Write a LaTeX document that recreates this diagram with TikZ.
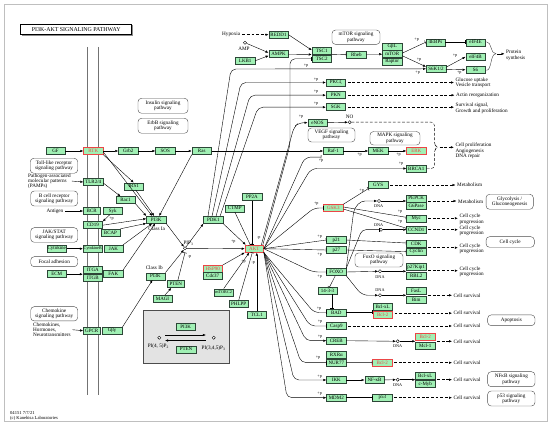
\documentclass[tikz,border=0pt]{standalone}
\usepackage{fontspec}
\setmainfont{Liberation Serif}
\usetikzlibrary{arrows.meta}
\definecolor{kgreen}{RGB}{160,240,180}
\definecolor{kred}{RGB}{235,70,70}
\definecolor{kedge}{RGB}{45,70,55}
\newcommand{\gfs}{\fontsize{5}{5.2}\selectfont}
\newcommand{\lfs}{\fontsize{5.2}{5.2}\selectfont}
\newcommand{\pfs}{\fontsize{4.2}{4.4}\selectfont}
\newcommand{\sfs}{\fontsize{4.2}{4.5}\selectfont}
\begin{document}
\begin{tikzpicture}[x=1pt,y=-1pt,line width=0.4pt,
 gene/.style={draw=kedge,fill=kgreen,minimum width=19.5pt,minimum height=7pt,inner sep=0pt,font=\gfs},
 rgene/.style={gene,draw=kred,text=kred},
 pw/.style={draw=black!70,rounded corners=3.5pt,align=center,font=\lfs,inner sep=0pt},
 txt/.style={font=\lfs,inner sep=0pt,align=left},
 lbl/.style={font=\pfs,inner sep=0pt},
 arr/.style={-{Latex[length=3pt,width=2.4pt]}},
 inh/.style={-{Bar[width=4pt]}},
 darr/.style={-{Latex[length=3pt,width=2.4pt]},dash pattern=on 2.8pt off 1.8pt,shorten <=2pt},
 tgap/.style={shorten >=1.5pt},
 dnadot/.style={circle,draw,fill=white,inner sep=0pt,minimum size=3.2pt},
 memb/.style={draw=black!55,line width=1.4pt}]
\useasboundingbox (0,0) rectangle (550,427);
\draw[black!25] (4,4) rectangle (547,421);
% title
\fill[black!45] (22.2,25.5) rectangle (133.2,35.8);
\node[draw,fill=white,line width=0.6pt,minimum width=111pt,minimum height=10.3pt,inner sep=0pt,font=\fontsize{5.9}{6}\selectfont] (title) at (76.2,29.2) {PI3K-AKT SIGNALING PATHWAY};
% membrane
\draw[memb] (87.3,47) -- (87.3,395);
\draw[memb] (98.7,47) -- (98.7,395);
% gray box
\node[draw=black!70,line width=1pt,fill=black!11,minimum width=86.4pt,minimum height=53.3pt,inner sep=0pt] (gbox) at (186.5,336.7) {};

% ---------- genes left
\node[gene] (GF) at (55.5,151) {GF};
\node[rgene] (RTK) at (93.3,151) {RTK};
\node[gene] (Grb2) at (128.2,151) {Grb2};
\node[gene] (SOS) at (165.3,151) {SOS};
\node[gene] (Ras) at (201.7,151) {Ras};
\node[gene] (Raf1) at (333.2,151) {Raf-1};
\node[gene] (MEK) at (378.2,151) {MEK};
\node[rgene] (ERK) at (416.3,151) {ERK};
\node[gene] (BRCA1) at (416.3,168.5) {BRCA1};
\node[gene] (TLR) at (93.3,182) {TLR2/4};
\node[gene] (IRS1) at (133.7,186.3) {IRS1};
\node[gene] (Rac1) at (125.5,200) {Rac1};
\node[gene,minimum width=16.7pt] (BCR) at (91.7,211) {BCR};
\node[gene,minimum width=19pt] (Syk) at (112.8,211) {Syk};
\node[gene] (CD19) at (92.8,225.2) {CD19};
\node[gene] (BCAP) at (110.5,232.5) {BCAP};
\node[gene] (PI3Ka) at (156.2,219.7) {PI3K};
\node[gene] (Cyt) at (56.7,248.7) {Cytokine};
\node[gene,font=\sfs] (CytR) at (92.8,248.7) {CytokineR};
\node[gene,minimum width=18.4pt] (JAK) at (113.5,248.7) {JAK};
\node[gene] (ECM) at (56.7,274.2) {ECM};
\node[gene] (ITGA) at (92.8,270.2) {ITGA};
\node[gene] (ITGB) at (92.8,277.8) {ITGB};
\node[gene] (FAK) at (113.3,273.5) {FAK};
\node[gene] (PI3Kb) at (155.5,276.3) {PI3K};
\node[gene,minimum width=17.5pt] (PTEN) at (175.8,284.2) {PTEN};
\node[gene] (MAGI) at (162.5,298.7) {MAGI};
\node[gene] (PDK1) at (213.3,220) {PDK1};
\node[gene] (CTMP) at (234.8,208.3) {CTMP};
\node[gene] (PP2A) at (252,197) {PP2A};
\node[rgene,minimum width=18.7pt,minimum height=7.3pt] (AKT) at (254.3,248.7) {AKT};
\node[rgene] (HSP90) at (212.7,268.8) {HSP90};
\node[gene] (Cdc37) at (212.7,276.2) {Cdc37};
\node[gene,font=\sfs] (mTORC2) at (223.7,292.3) {mTORC2};
\node[gene] (PHLPP) at (238.7,304) {PHLPP};
\node[gene] (TCL1) at (256.8,315) {TCL1};
\node[gene,minimum width=16.7pt] (GPCR) at (91.7,330.7) {GPCR};
\node[gene,minimum width=20.6pt] (Gbg) at (112,330.7) {Gβγ};
% ---------- genes top
\node[gene] (REDD1) at (278.5,34.7) {REDD1};
\node[gene] (AMPK) at (278.5,54.2) {AMPK};
\node[gene] (LKB1) at (245.2,60.8) {LKB1};
\node[gene] (TSC1) at (321.7,51.2) {TSC1};
\node[gene] (TSC2) at (321.7,58.8) {TSC2};
\node[gene] (Rheb) at (356.3,54.3) {Rheb};
\node[gene] (GbL) at (392.2,46.7) {GβL};
\node[gene] (mTOR) at (392.2,54.2) {mTOR};
\node[gene] (Raptor) at (392.2,61.7) {Raptor};
\node[gene] (EBP) at (435.5,42.3) {4EBPs};
\node[gene] (eIF4E) at (475.5,42.3) {eIF4E};
\node[gene] (eIF4B) at (475.5,56.8) {eIF4B};
\node[gene] (S6K) at (436,68.8) {S6K1/2};
\node[gene] (S6) at (475.5,69.8) {S6};
\node[gene] (PKC) at (335.8,82.5) {PKCζ};
\node[gene] (PKN) at (335.8,95.2) {PKN};
\node[gene] (SGK) at (335.8,107.2) {SGK};
\node[gene] (eNOS) at (317.5,122.7) {eNOS};
% ---------- genes right
\node[gene] (GYS) at (378.2,185) {GYS};
\node[rgene] (GSK3) at (333.3,208) {GSK3};
\node[gene] (PEPCK) at (416.2,198.3) {PEPCK};
\node[gene] (G6P) at (416.2,205.8) {G6Pase};
\node[gene] (Myc) at (416.2,218.3) {Myc};
\node[gene] (CCND1) at (416.2,229.7) {CCND1};
\node[gene] (p21) at (336.3,240) {p21};
\node[gene] (p27) at (336.3,250) {p27};
\node[gene] (CDK) at (416.2,244) {CDK};
\node[gene] (Cyclin) at (416.2,251.6) {Cyclin};
\node[gene] (FOXO) at (336.3,272) {FOXO};
\node[gene] (Kip) at (416.2,267) {p27Kip1};
\node[gene] (RBL2) at (416.2,275.5) {RBL2};
\node[gene] (Y1433) at (327.5,290.8) {14-3-3};
\node[gene] (BAD) at (336.3,312.5) {BAD};
\node[gene] (Casp9) at (336.3,326) {Casp9};
\node[gene] (CREB) at (336.3,340.7) {CREB};
\node[gene] (RXRa) at (336.3,355) {RXRα};
\node[gene] (NUR77) at (336.3,362.6) {NUR77};
\node[gene] (IKK) at (336.3,380) {IKK};
\node[gene] (MDM2) at (336.3,397.7) {MDM2};
\node[gene] (FasL) at (416.2,290.9) {FasL};
\node[gene] (Bim) at (416.2,299.6) {Bim};
\node[gene] (BclxLa) at (382.7,306.7) {Bcl-xL};
\node[rgene] (Bcl2a) at (382.7,315.2) {Bcl-2};
\node[rgene] (Bcl2b) at (425.3,336.7) {Bcl-2};
\node[gene] (Mcl1) at (425.3,346) {Mcl-1};
\node[rgene] (Bcl2c) at (382.3,362.7) {Bcl-2};
\node[gene] (NFkB) at (374.5,380) {NF-κB};
\node[gene] (BclxLb) at (425.3,375.3) {Bcl-xL};
\node[gene] (cMyb) at (425.3,384) {c-Myb};
\node[gene] (p53) at (382.3,397.7) {p53};
% gray box content
\node[gene] (bPI3K) at (185.7,326.7) {PI3K};
\node[gene] (bPTEN) at (186,349.3) {PTEN};
\node[dnadot] (pipL) at (159.3,337.7) {};
\node[dnadot] (pipR) at (213.7,337.7) {};
\node[txt] (pipLt) at (158.3,346.7) {PI(4, 5)P\textsubscript{2}};
\node[txt] (pipRt) at (213.5,348.5) {PI(3,4,5)P\textsubscript{3}};
\draw[arr] ([xshift=4pt,yshift=2.7pt]pipL.east) -- ([xshift=-6pt,yshift=2.7pt]pipR.west);
\draw[arr] ([xshift=-6pt,yshift=-2.8pt]pipR.west) -- ([xshift=4pt,yshift=-2.8pt]pipL.east);

% ---------- pathway boxes
\node[pw,minimum width=50pt,minimum height=15pt] (insulin) at (163,105.8) {Insulin signaling\\pathway};
\node[pw,minimum width=50pt,minimum height=15pt] (erbb) at (163,125.8) {ErbB signaling\\pathway};
\node[pw,minimum width=47.5pt,minimum height=15pt] (toll) at (54,165.8) {Toll-like receptor\\signaling pathway};
\node[pw,minimum width=47pt,minimum height=15pt] (bcell) at (54.2,198.5) {B cell receptor\\signaling pathway};
\node[pw,minimum width=47pt,minimum height=14.6pt] (jak) at (54.2,235) {JAK/STAT\\signaling pathway};
\node[pw,minimum width=47pt,minimum height=10pt] (focal) at (54.2,261.7) {Focal adhesion};
\node[pw,minimum width=47pt,minimum height=14.3pt] (chemo) at (54.2,313.8) {Chemokine\\signaling pathway};
\node[pw,minimum width=48pt,minimum height=14.3pt] (mtorpw) at (356,37.2) {mTOR signaling\\pathway};
\node[pw,minimum width=47pt,minimum height=14pt] (vegf) at (331.5,135) {VEGF signaling\\pathway};
\node[pw,minimum width=50pt,minimum height=13.5pt] (mapk) at (395,138.3) {MAPK signaling\\pathway};
\node[pw,minimum width=48pt,minimum height=14pt] (foxopw) at (379,260) {FoxO signaling\\pathway};
\node[pw,minimum width=47.3pt,minimum height=15pt] (glyco) at (509.7,201.8) {Glycolysis /\\Gluconeogenesis};
\node[pw,minimum width=48.3pt,minimum height=10.6pt] (ccpw) at (510.2,242) {Cell cycle};
\node[pw,minimum width=47.3pt,minimum height=10.7pt] (apo) at (511.3,320.3) {Apoptosis};
\node[pw,minimum width=47.3pt,minimum height=15pt] (nfkbpw) at (511.3,379.2) {NFκB signaling\\pathway};
\node[pw,minimum width=47.3pt,minimum height=15pt] (p53pw) at (511.3,398.5) {p53 signaling\\pathway};

% ---------- texts
\node[txt,anchor=west] (hyp) at (222,34.7) {Hypoxia};
\node[dnadot] (AMP) at (245,42.7) {};
\node[txt] (AMPt) at (244,48.5) {AMP};
\node[dnadot] (NO) at (349.7,122.2) {};
\node[txt] (NOt) at (349.7,117) {NO};
\node[txt,anchor=west] (pamps) at (28,181) {Pathogen-associated\\molecular patterns\\(PAMPs)};
\node[txt,anchor=east] (antigen) at (63.5,211) {Antigen};
\node[txt,anchor=west] (chem) at (33,329.6) {Chemokines,\\Hormones,\\Neurotransmitters};
\node[txt] (cIa) at (156.7,228.3) {Class Ia};
\node[txt] (cIb) at (154.2,267.3) {Class Ib};
\node[dnadot] (PIP3) at (185,248.3) {};
\node[txt] (pip3t) at (188.5,243.2) {PIP\textsubscript{3}};
\node[txt,anchor=west] (glu) at (455.5,82.5) {Glucose uptake\\Vesicle transport};
\node[txt,anchor=west] (actin) at (456,95.2) {Actin reorganization};
\node[txt,anchor=west] (surv) at (455.5,108.3) {Survival signal,\\Growth and proliferation};
\node[txt,anchor=west] (prot) at (506,55.3) {Protein\\synthesis};
\node[txt,anchor=north west] (prolif) at (455.3,143) {Cell proliferation\\Angiogenesis\\DNA repair};
\node[txt,anchor=west] (met1) at (457,185) {Metabolism};
\node[txt,anchor=west] (met2) at (458,201.3) {Metabolism};
\node[txt,anchor=west] (cc1) at (459.3,219.3) {Cell cycle\\progression};
\node[txt,anchor=west] (cc2) at (459.3,230.7) {Cell cycle\\progression};
\node[txt,anchor=west] (cc3) at (459.3,248.5) {Cell cycle\\progression};
\node[txt,anchor=west] (cc4) at (459.3,271.5) {Cell cycle\\progression};
\node[txt,anchor=west] (cs1) at (453.5,295.3) {Cell survival};
\node[txt,anchor=west] (cs2) at (453.5,313.2) {Cell survival};
\node[txt,anchor=west] (cs3) at (453.5,326) {Cell survival};
\node[txt,anchor=west] (cs4) at (453.5,341.3) {Cell survival};
\node[txt,anchor=west] (cs5) at (453.5,362.7) {Cell survival};
\node[txt,anchor=west] (cs6) at (453.5,379.7) {Cell survival};
\node[txt,anchor=west] (cs7) at (453.5,397.7) {Cell survival};
\node[txt,anchor=west,font=\fontsize{4.6}{5}\selectfont] (foot) at (10,415.5) {04151 7/7/21\\(c) Kanehisa Laboratories};

% DNA dots
\node[dnadot] (dna1) at (379,201) {};
\node[dnadot] (dna2) at (381,229.7) {};
\node[dnadot] (dna3) at (380,271.3) {};
\node[dnadot] (dna4) at (380,295.3) {};
\node[dnadot] (dna5) at (397.7,341.3) {};
\node[dnadot] (dna6) at (397.7,379.7) {};
\node[lbl] (d1) at (378.7,206.3) {DNA};
\node[lbl] (d2) at (378.7,225.2) {DNA};
\node[lbl] (d3) at (380,276.8) {DNA};
\node[lbl] (d4) at (380,290.5) {DNA};
\node[lbl] (d5) at (397.7,346.6) {DNA};
\node[lbl] (d6) at (397.7,385) {DNA};

% ---------- top connectors
\draw[darr] (hyp.east) -- (REDD1.west);
\draw[arr] (REDD1.east) -- ([yshift=1pt]TSC1.west);
\draw[arr] (AMP) -- ([yshift=1.5pt]AMPK.west);
\draw[arr] (LKB1.east) -- ([yshift=-1.5pt]AMPK.west);
\draw[arr] (AMPK.east) -- ([yshift=-3.3pt]TSC1.west);
\draw[inh] ([yshift=-3.5pt]TSC1.east) -- (Rheb.west);
\draw[arr] (Rheb.east) -- (mTOR.west);
\draw[inh] ([yshift=1pt]mTOR.east) -- (EBP.west);
\draw[arr] ([yshift=-1.5pt]mTOR.east) -- ([yshift=2pt]S6K.west);
\draw[inh] (EBP.east) -- (eIF4E.west);
\draw[arr] ([yshift=1.5pt]S6K.east) -- (eIF4B.west);
\draw[arr] ([yshift=-0.5pt]S6K.east) -- (S6.west);
\draw[black!75] (486.5,41.8) .. controls (492,41.8) and (490,53.8) .. (496,53.8) .. controls (490,53.8) and (492,70.3) .. (486.5,70.3);
\coordinate (ptip) at (497,53.8);
\draw[arr,tgap] (ptip) -- (ptip -| prot.west);
% PDK1 fan
\draw[arr,rounded corners=5pt] ([xshift=-5.3pt]PDK1.north) -- (231,69) -- (S6K.west);
\draw[arr,rounded corners=5pt] ([xshift=-1.3pt]PDK1.north) -- (241,82.5) -- (PKC.west);
\draw[arr,rounded corners=5pt] ([xshift=2.7pt]PDK1.north) -- (250,95.2) -- (PKN.west);
\draw[arr,rounded corners=5pt] ([xshift=6.7pt]PDK1.north) -- (258,107.2) -- (SGK.west);
\draw[darr,tgap] (PKC.east) -- (PKC.east -| glu.west);
\draw[darr,tgap] (PKN.east) -- (PKN.east -| actin.west);
\draw[darr,tgap] (SGK.east) -- (SGK.east -| surv.west);
% AKT upward
\draw[inh,rounded corners=5pt] ([xshift=-1pt]AKT.north east) -- (290,145) -- (290,58.8) -- (TSC2.west);
\draw[arr,rounded corners=5pt] ([xshift=-2.5pt]AKT.north east) -- (294,127) -- (299,122.7) -- (eNOS.west);
\draw[arr] (eNOS.east) -- (NO);
\draw[dash pattern=on 2.8pt off 1.8pt,rounded corners=3pt] (NO.east) -- (434.3,122.2) -- (434.3,144.5) -- (437.7,147.3) -- (434.3,150.1) -- (434.3,168.5) -- (BRCA1.east);
\coordinate (btip) at (437.7,147.3);
\draw[darr,tgap] (btip) -- (btip -| prolif.west);
% Ras row
\draw[arr] (GF) -- (RTK);
\draw[arr] (RTK) -- (Grb2);
\draw[arr] (Grb2) -- (SOS);
\draw[arr] (SOS) -- (Ras);
\draw[arr] (Ras) -- (Raf1);
\draw[arr] (Raf1) -- (MEK);
\draw[arr] (MEK) -- (ERK);
% AKT right
\draw[inh,rounded corners=6pt] (AKT.east) -- (305,157) -- ([xshift=-2pt,yshift=-2.5pt]Raf1.south west);
\draw[arr,rounded corners=6pt] (AKT.east) -- (311,168.5) -- (BRCA1.west);
\draw[inh,rounded corners=5pt] (AKT.east) -- (314,208) -- (GSK3.west);
\draw[inh] (AKT.east) -- (p21.west);
\draw[inh] (AKT.east) -- (p27.west);
\draw[inh,rounded corners=5pt] (AKT.east) -- (313,272) -- (FOXO.west);
\draw[inh,rounded corners=5pt] (AKT.south east) -- (314,312.5) -- (BAD.west);
\draw[inh,rounded corners=5pt] (AKT.south east) -- (310,326) -- (Casp9.west);
\draw[arr,rounded corners=5pt] (AKT.south east) -- (306,340.7) -- (CREB.west);
\draw[inh,rounded corners=5pt] (AKT.south east) -- (301,362.6) -- (NUR77.west);
\draw[arr,rounded corners=5pt] (AKT.south east) -- (294,380) -- (IKK.west);
\draw[arr,rounded corners=5pt] (AKT.south east) -- (287,397.7) -- (MDM2.west);
% GSK3
\draw[inh] (GSK3.north east) -- (GYS.south west);
\draw[inh] ([yshift=1pt]GSK3.east) -- ([yshift=1pt]Myc.west);
\draw[inh] ([yshift=-1pt]GSK3.east) -- ([yshift=1.5pt]CCND1.west);
\draw[darr,tgap] (GYS.east) -- (met1.west);
% FOXO
\draw[arr,rounded corners=4pt] (FOXO.north east) -- (354,209) -- (361,201) -- (dna1);
\draw[arr] (dna1) -- (dna1 -| PEPCK.west);
\draw[darr,tgap] (dna1 -| PEPCK.east) -- (dna1 -| met2.west);
\draw[inh,rounded corners=4pt] (FOXO.north east) -- (362,229.7) -- (dna2);
\draw[arr] (dna2) -- (dna2 -| CCND1.west);
\draw[darr,tgap] (Myc.east) -- (Myc.east -| cc1.west);
\draw[darr,tgap] (CCND1.east) -- (CCND1.east -| cc2.west);
\draw[inh] (p21.east) -- ([yshift=1pt]CDK.west);
\draw[inh] (p27.east) -- (Cyclin.west);
\draw[darr,tgap] (CDK.south east) -- (CDK.south east -| cc3.west);
\draw[arr] (FOXO.east) -- (dna3);
\draw[arr] (dna3) -- (dna3 -| Kip.west);
\draw[darr,tgap] (Kip.south east) -- (Kip.south east -| cc4.west);
\draw[arr,rounded corners=6pt] (FOXO.south east) -- (362,295.3) -- (dna4);
\draw[arr] (dna4) -- (dna4 -| FasL.west);
\draw[inh] ([xshift=-1pt]FOXO.south) -- ([xshift=2pt]Y1433.north);
\draw[inh] ([xshift=4.2pt]Y1433.south) -- ([xshift=4.2pt]Y1433.south |- BAD.north);
% survival
\draw[inh] (BAD.east) -- (BAD.east -| BclxLa.west);
\draw[arr] (CREB.east) -- (dna5);
\draw[arr] (dna5) -- (dna5 -| Bcl2b.west);
\draw[inh] (NUR77.east) -- (Bcl2c.west);
\draw[arr] (IKK) -- (NFkB);
\draw[arr] (NFkB) -- (dna6);
\draw[arr] (dna6) -- (dna6 -| BclxLb.west);
\draw[inh] (MDM2) -- (p53);
\draw[darr,tgap] (dna4 -| FasL.east) -- (cs1.west);
\draw[darr,tgap] ([yshift=2pt]Bcl2a.east) -- (cs2.west);
\draw[darr,tgap] (Casp9.east) -- (cs3.west);
\draw[darr,tgap] (dna5 -| Bcl2b.east) -- (cs4.west);
\draw[darr,tgap] (Bcl2c.east) -- (cs5.west);
\draw[darr,tgap] (dna6 -| BclxLb.east) -- (cs6.west);
\draw[darr,tgap] (p53.east) -- (cs7.west);
% left side
\draw[arr,shorten <=1pt] (pamps.east) -- (TLR.west);
\draw[arr,shorten <=1.5pt] (antigen.east) -- (BCR.west);
\draw[arr] (Cyt) -- (CytR);
\draw[arr] (ECM.east) -- (ECM.east -| ITGA.west);
\draw[arr,shorten <=1.5pt] (chem.east) -- (GPCR.west);
\draw[arr] (RTK.south east) -- (IRS1.north);
\draw[arr] ([yshift=-1pt]RTK.east) -- ([xshift=-4pt]PI3Ka.north);
\draw[arr] (Ras.south west) -- ([xshift=3pt]PI3Ka.north);
\draw[arr] ([xshift=2pt]IRS1.south) -- ([xshift=-2pt]PI3Ka.north);
\draw[arr] ([yshift=-1pt]TLR.east) -- ([xshift=-5pt]Rac1.north);
\draw[arr] (Rac1.south east) -- (PI3Ka.north west);
\draw[arr] ([xshift=-3pt]Syk.south) -- (CD19.north east);
\draw[arr] (CD19.east) -- ([yshift=1pt]PI3Ka.west);
\draw[arr] (BCAP.north east) -- (PI3Ka.south west);
\draw[arr] (JAK.north east) -- ([xshift=-4pt]PI3Ka.south);
\draw[arr] (FAK.north east) -- ([xshift=-1pt]PI3Ka.south);
\draw[arr] (Gbg.north east) -- ([xshift=-3pt]PI3Kb.south);
\draw[arr] (PI3Ka.south east) -- (PIP3);
\draw[arr] (PI3Kb.north east) -- (PIP3);
\draw[inh] ([xshift=2pt]PTEN.north) -- ([yshift=-2.5pt]PIP3.south);
\draw[arr] ([xshift=2.5pt]MAGI.north) -- ([xshift=-4.5pt]PTEN.south);
\draw[arr] (PIP3) -- (PDK1.south west);
\draw[arr] (PIP3) -- (AKT.west);
\draw[arr] (PDK1.south east) -- ([xshift=1pt]AKT.north west);
\draw[inh] (CTMP.south) -- ([xshift=-4pt]AKT.north);
\draw[inh] (PP2A.south) -- (PP2A.south |- AKT.north);
\draw[arr] (HSP90.north east) -- (AKT.south west);
\draw[arr] (mTORC2.north) -- ([xshift=-5pt]AKT.south);
\draw[inh] (PHLPP.north) -- ([xshift=-2pt]AKT.south);
\draw[arr] (TCL1.north) -- (TCL1.north |- AKT.south);

% ---------- +p labels
\node[lbl] (q1) at (111.5,218.6) {+p};
\node[lbl] (q2) at (233.3,241.5) {+p};
\node[lbl] (q3) at (258.8,237.5) {-p};
\node[lbl] (q4) at (243.5,261.5) {+p};
\node[lbl] (q5) at (253.3,263.3) {-p};
\node[lbl] (q6) at (189.5,257) {-p};
\node[lbl] (q7) at (306,65.3) {+p};
\node[lbl] (q8) at (416.7,39.3) {+p};
\node[lbl] (q9) at (419,59.5) {+p};
\node[lbl] (q10) at (417.7,72.5) {+p};
\node[lbl] (q11) at (455,55.5) {+p};
\node[lbl] (q12) at (459.3,72.3) {+p};
\node[lbl] (q13) at (316,79.3) {+p};
\node[lbl] (q14) at (316,91.3) {+p};
\node[lbl] (q15) at (316,103.5) {+p};
\node[lbl] (q16) at (301,117) {+p};
\node[lbl] (q17) at (321,160.8) {+p};
\node[lbl] (q18) at (359.5,154.8) {+p};
\node[lbl] (q19) at (398.5,154.8) {+p};
\node[lbl] (q20) at (401,164) {+p};
\node[lbl] (q21) at (316.3,203.5) {+p};
\node[lbl] (q22) at (361.7,190.5) {+p};
\node[lbl] (q23) at (400,211.5) {+p};
\node[lbl] (q24) at (400,221.5) {+p};
\node[lbl] (q25) at (319.7,236.7) {+p};
\node[lbl] (q26) at (319.7,255) {+p};
\node[lbl] (q27) at (319.7,276.8) {+p};
\node[lbl] (q28) at (319,308.5) {+p};
\node[lbl] (q29) at (320,322) {+p};
\node[lbl] (q30) at (320,337) {+p};
\node[lbl] (q31) at (318,358) {+p};
\node[lbl] (q32) at (319.7,376.3) {+p};
\node[lbl] (q33) at (319.7,393.5) {+p};
\end{tikzpicture}
\end{document}
